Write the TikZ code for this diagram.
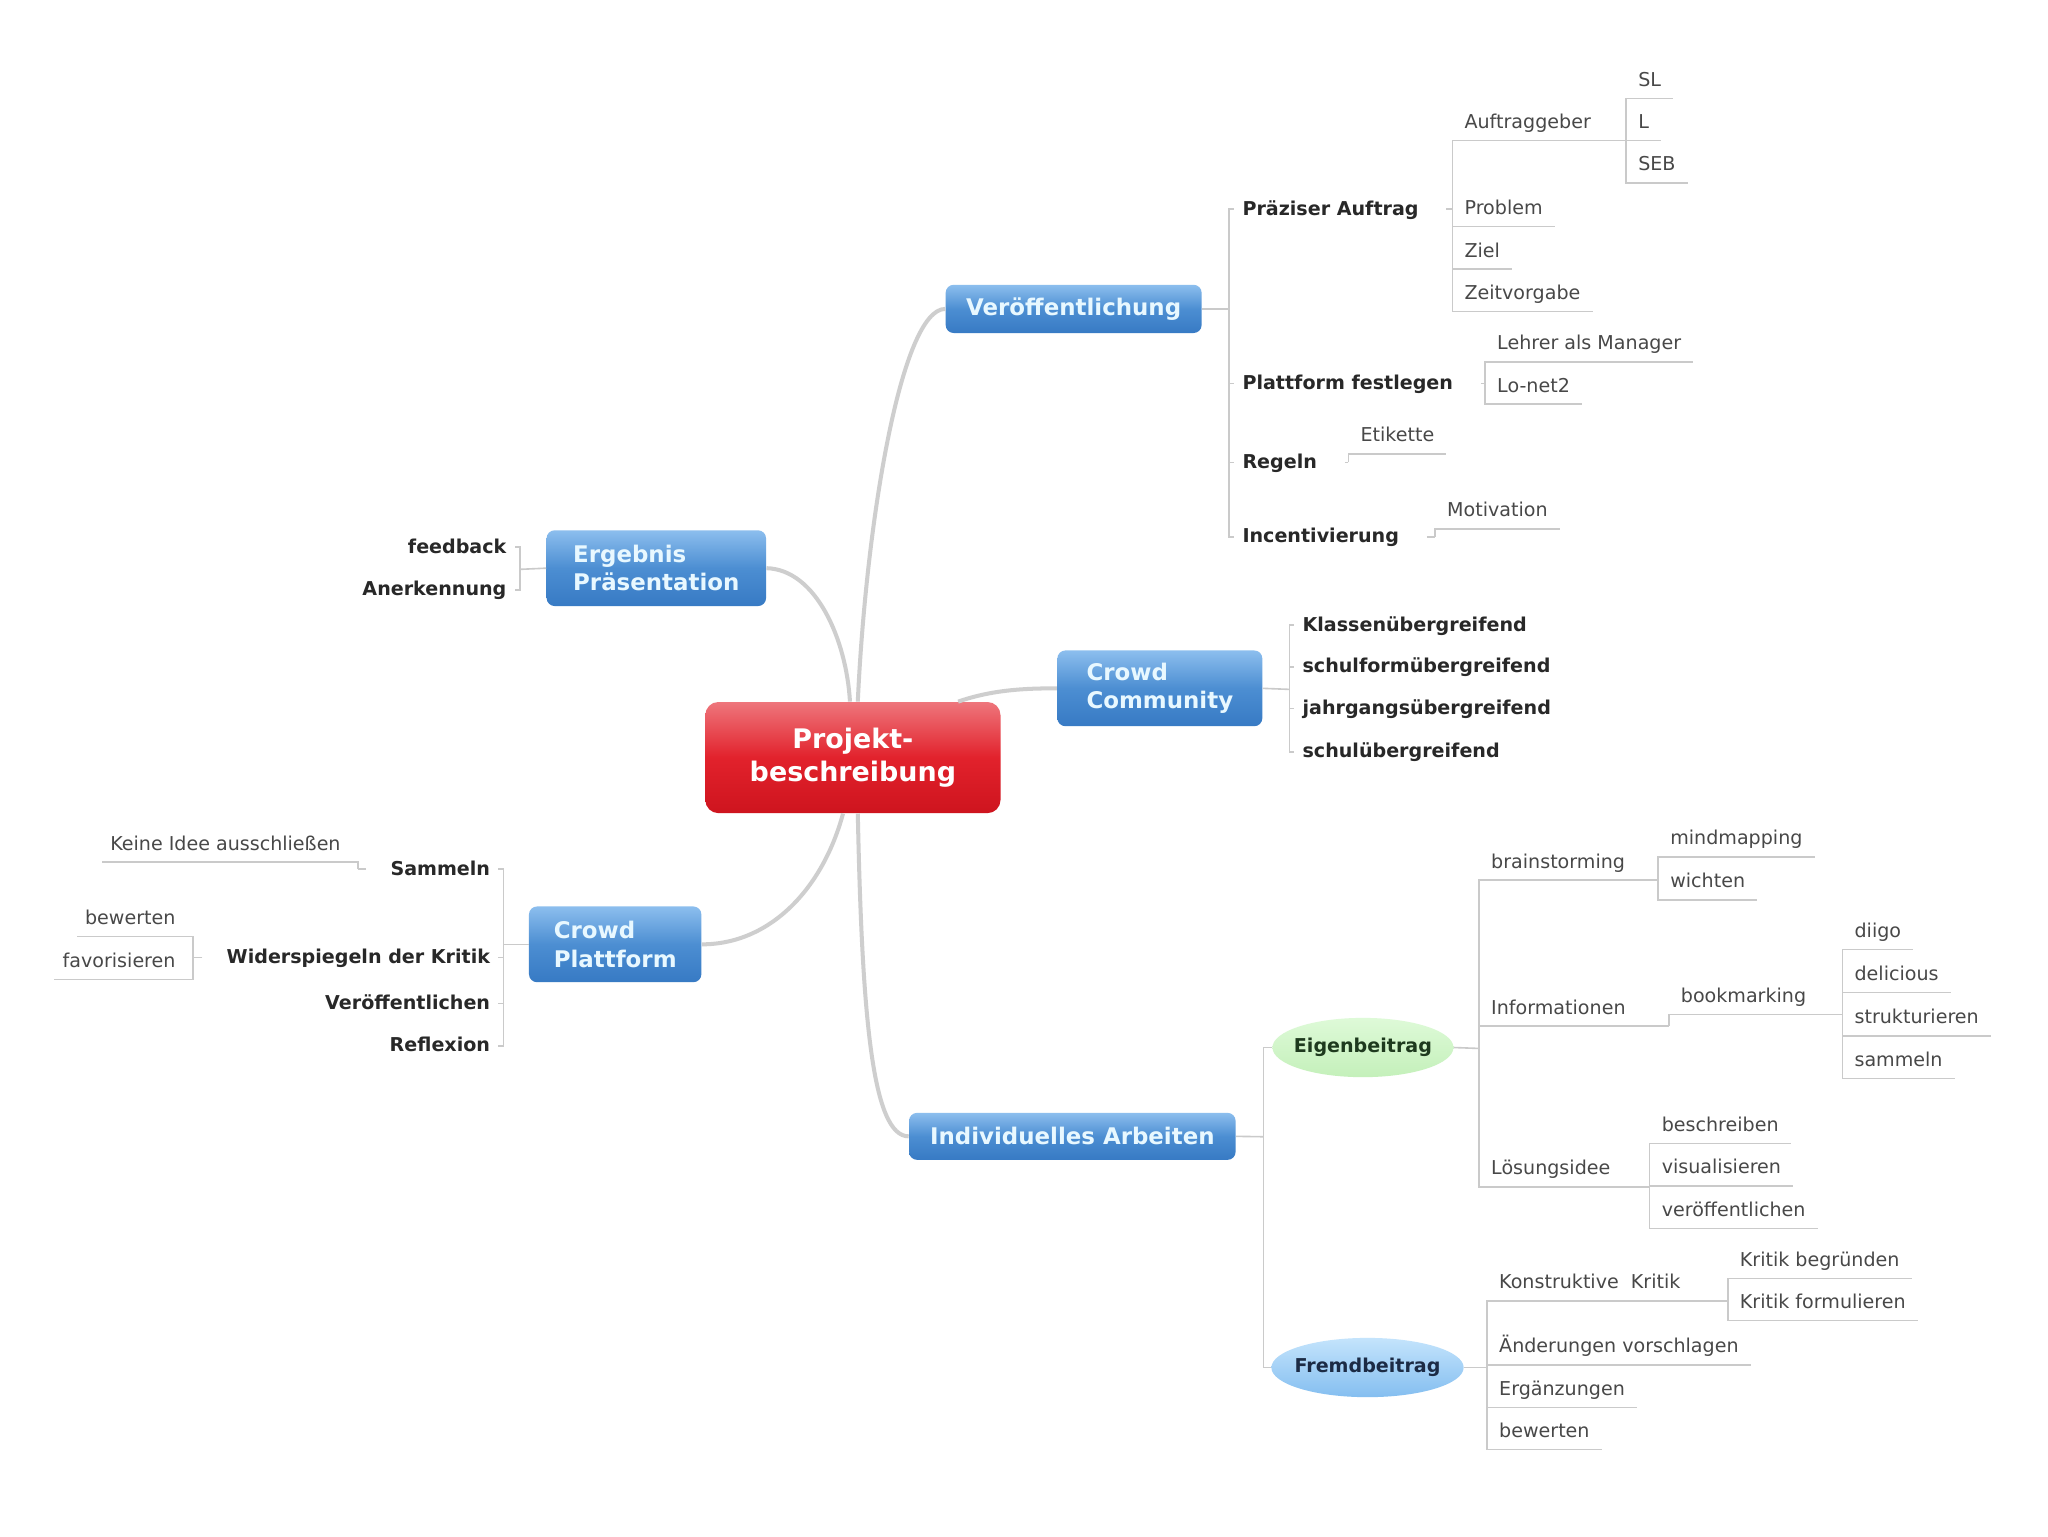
\documentclass[tikz,border=0pt]{standalone}
\usepackage{fontspec}
\setmainfont{DejaVu Sans}
\usetikzlibrary{shapes.geometric}

\definecolor{boxtop}{RGB}{140,190,238}
\definecolor{boxmid}{RGB}{76,142,210}
\definecolor{boxbot}{RGB}{55,122,196}
\definecolor{boxtext}{RGB}{232,248,255}
\definecolor{redtop}{RGB}{238,118,124}
\definecolor{redmid}{RGB}{226,34,44}
\definecolor{redbot}{RGB}{206,20,30}
\definecolor{greentop}{RGB}{222,250,216}
\definecolor{greenbot}{RGB}{196,240,186}
\definecolor{greentext}{RGB}{30,58,30}
\definecolor{skytop}{RGB}{196,228,252}
\definecolor{skybot}{RGB}{132,190,240}
\definecolor{skytext}{RGB}{28,43,69}
\definecolor{curvegray}{RGB}{206,206,206}
\definecolor{twiggray}{RGB}{202,202,202}
\definecolor{subtext}{RGB}{40,40,40}
\definecolor{leaftext}{RGB}{72,72,72}

\tikzset{
  branch/.style={draw=curvegray, line width=2pt},
  twig/.style={draw=twiggray, line width=0.8pt},
  central/.style={rounded corners=6.5pt, top color=redtop, bottom color=redbot, middle color=redmid,
    text=white, font=\fontsize{13.4}{16.3}\selectfont\bfseries, align=center, inner sep=0pt},
  topic/.style={rounded corners=4pt, top color=boxtop, bottom color=boxbot, middle color=boxmid,
    text=boxtext, font=\fontsize{11.4}{14.1}\selectfont\bfseries, align=left, inner sep=0pt},
  eigen/.style={ellipse, top color=greentop, bottom color=greenbot, text=greentext,
    font=\fontsize{9.5}{11}\selectfont\bfseries, inner xsep=-2.5pt, inner ysep=0pt, minimum height=29.5pt},
  fremd/.style={eigen, top color=skytop, bottom color=skybot, text=skytext},
  sub/.style={font=\fontsize{9.5}{11}\selectfont\bfseries, text=subtext, inner xsep=3.9pt, inner ysep=0pt,
    text height=7.5pt, text depth=1.5pt},
  subr/.style={sub, anchor=west},
  subl/.style={sub, anchor=east},
  leaf/.style={font=\fontsize{9.5}{11}\selectfont, text=leaftext, inner xsep=5.85pt, inner ysep=0pt,
    text height=7pt, text depth=5.8pt, anchor=south west},
  leafl/.style={leaf, anchor=south east, inner xsep=3.9pt, execute at end node={\hspace*{4.5pt}}}
}

\begin{document}
\begin{tikzpicture}[x=0.65pt, y=-0.65pt]
        \useasboundingbox (0,0) rectangle (1568,1176);
        \fill[white] (0,0) rectangle (1568,1176);

        % centre and main topics
        \node[central, minimum width=146.9pt, minimum height=55.3pt] (proj) at (653,580) {Projekt-\\beschreibung};
        \node[topic, minimum width=127.4pt, minimum height=24pt] (ver) at (822,236.5) {Veröffentlichung};
        \node[topic, minimum width=109.2pt, minimum height=37.7pt] (erg) at (502.5,435) {Ergebnis\\Präsentation};
        \node[topic, minimum width=102pt, minimum height=37.7pt] (cc) at (888,527) {Crowd\\Community};
        \node[topic, minimum width=85.8pt, minimum height=37.7pt] (cp) at (471,723) {Crowd\\Plattform};
        \node[topic, minimum width=162.5pt, minimum height=23.4pt] (ia) at (821,870) {Individuelles Arbeiten};

        \draw[branch] (proj.85) .. controls (663,400) and (690,236.5) .. (ver.west);
        \draw[branch] (proj.93) .. controls (648,490) and (625,436) .. (erg.east);
        \draw[branch] (proj.28) .. controls (760,528) and (785,527) .. (cc.west);
        \draw[branch] (proj.-100) .. controls (630,680) and (590,723) .. (cp.east);
        \draw[branch] (proj.-85) .. controls (660,780) and (668,870) .. (ia.west);

        % Veroeffentlichung
        \coordinate (ver-j) at (941,236.5);
        \node[subr] (pra) at (945,160) {Präziser Auftrag};
        \node[subr] (pfest) at (945,293.5) {Plattform festlegen};
        \node[subr] (regeln) at (945,354) {Regeln};
        \node[subr] (incent) at (945,410.9) {Incentivierung};
        \draw[twig] (ver.east) -- (ver-j);
        \draw[twig] (ver-j) |- (pra.west);
        \draw[twig] (ver-j) |- (pfest.west);
        \draw[twig] (ver-j) |- (regeln.west);
        \draw[twig] (ver-j) |- (incent.west);

        \coordinate (pa-j) at (1112,160);
        \coordinate (auf-j) at (1245,107.7);
        \node[leaf] (auf) at (1112,107.7) {Auftraggeber};
        \node[leaf] (sl) at (1245,75.3) {SL};
        \node[leaf] (ll) at (1245,107.7) {L};
        \node[leaf] (seb) at (1245,140) {SEB};
        \node[leaf] (prob) at (1112,173.5) {Problem};
        \node[leaf] (ziel) at (1112,206) {Ziel};
        \node[leaf] (zeit) at (1112,238.6) {Zeitvorgabe};
        \draw[twig, shorten <=9.75pt] (pra.east) -- (pa-j);
        \draw[twig] (pa-j) |- (auf.south west) -- (auf-j);
        \draw[twig] (pa-j) |- (prob.south west) -- (prob.south east);
        \draw[twig] (pa-j) |- (ziel.south west) -- (ziel.south east);
        \draw[twig] (pa-j) |- (zeit.south west) -- (zeit.south east);
        \draw[twig] (auf-j) |- (sl.south west) -- (sl.south east);
        \draw[twig] (auf-j) |- (ll.south west) -- (ll.south east);
        \draw[twig] (auf-j) |- (seb.south west) -- (seb.south east);

        \coordinate (pf-j) at (1137,293.5);
        \node[leaf] (lehrer) at (1137,277) {Lehrer als Manager};
        \node[leaf] (lonet) at (1137,309.5) {Lo-net2};
        \draw[twig, shorten <=9.75pt] (pfest.east) -- (pf-j);
        \draw[twig] (pf-j) |- (lehrer.south west) -- (lehrer.south east);
        \draw[twig] (pf-j) |- (lonet.south west) -- (lonet.south east);

        \coordinate (reg-j) at (1032.4,354);
        \node[leaf] (etik) at (1032.4,347.6) {Etikette};
        \draw[twig, shorten <=9.75pt] (regeln.east) -- (reg-j);
        \draw[twig] (reg-j) |- (etik.south west) -- (etik.south east);

        \coordinate (inc-j) at (1098.7,410.9);
        \node[leaf] (moti) at (1098.7,405) {Motivation};
        \draw[twig, shorten <=9.75pt] (incent.east) -- (inc-j);
        \draw[twig] (inc-j) |- (moti.south west) -- (moti.south east);

        % Crowd Community
        \coordinate (cc-j) at (987.2,527.8);
        \node[subr] (klassen) at (991,478.6) {Klassenübergreifend};
        \node[subr] (schulform) at (991,510.5) {schulformübergreifend};
        \node[subr] (jahrgang) at (991,542.4) {jahrgangsübergreifend};
        \node[subr] (schul) at (991,575.6) {schulübergreifend};
        \draw[twig] (cc.east) -- (cc-j);
        \draw[twig] (cc-j) |- (klassen.west);
        \draw[twig] (cc-j) |- (schulform.west);
        \draw[twig] (cc-j) |- (jahrgang.west);
        \draw[twig] (cc-j) |- (schul.west);

        % Ergebnis Praesentation
        \coordinate (erg-j) at (398,435.9);
        \node[subl] (feed) at (394,419) {feedback};
        \node[subl] (anerk) at (394,451.5) {Anerkennung};
        \draw[twig] (erg.west) -- (erg-j);
        \draw[twig] (erg-j) |- (feed.east);
        \draw[twig] (erg-j) |- (anerk.east);

        % Crowd Plattform
        \coordinate (cp-j) at (385.4,723);
        \node[subl] (sam) at (381.5,665.5) {Sammeln};
        \node[subl] (wid) at (381.5,733) {Widerspiegeln der Kritik};
        \node[subl] (veroeff) at (381.5,768.2) {Veröffentlichen};
        \node[subl] (refl) at (381.5,800.6) {Reflexion};
        \draw[twig] (cp.west) -- (cp-j);
        \draw[twig] (cp-j) |- (sam.east);
        \draw[twig] (cp-j) |- (wid.east);
        \draw[twig] (cp-j) |- (veroeff.east);
        \draw[twig] (cp-j) |- (refl.east);

        \coordinate (sam-j) at (274,665.5);
        \node[leafl] (keine) at (274,660) {Keine Idee ausschließen};
        \draw[twig, shorten <=8pt] (sam.west) -- (sam-j);
        \draw[twig] (sam-j) |- (keine.south east) -- (keine.south west);

        \coordinate (wid-j) at (147.6,733);
        \node[leafl] (bew) at (147.6,717) {bewerten};
        \node[leafl] (fav) at (147.6,750) {favorisieren};
        \draw[twig, shorten <=8pt] (wid.west) -- (wid-j);
        \draw[twig] (wid-j) |- (bew.south east) -- (bew.south west);
        \draw[twig] (wid-j) |- (fav.south east) -- (fav.south west);

        % Individuelles Arbeiten
        \coordinate (ia-j) at (967.3,870.3);
        \node[eigen] (eig) at (1043.5,802) {Eigenbeitrag};
        \node[fremd] (frb) at (1047,1047) {Fremdbeitrag};
        \draw[twig] (ia.east) -- (ia-j);
        \draw[twig] (ia-j) |- (eig.west);
        \draw[twig] (ia-j) |- (frb.west);

        % Eigenbeitrag
        \coordinate (eig-j) at (1132.4,802.7);
        \coordinate (bs-j) at (1269.5,673.8);
        \coordinate (inf-j) at (1277.6,785.6);
        \coordinate (los-j) at (1263,908.6);
        \node[leaf] (bs) at (1132.4,673.8) {brainstorming};
        \node[leaf] (inf) at (1132.4,785.6) {Informationen};
        \node[leaf] (los) at (1132.4,908.6) {Lösungsidee};
        \draw[twig] (eig.east) -- (eig-j);
        \draw[twig] (eig-j) |- (bs.south west) -- (bs-j);
        \draw[twig] (eig-j) |- (inf.south west) -- (inf-j);
        \draw[twig] (eig-j) |- (los.south west) -- (los-j);

        \node[leaf] (mind) at (1269.5,656) {mindmapping};
        \node[leaf] (wich) at (1269.5,689) {wichten};
        \draw[twig] (bs-j) |- (mind.south west) -- (mind.south east);
        \draw[twig] (bs-j) |- (wich.south west) -- (wich.south east);

        \coordinate (bm-j) at (1410.6,776.7);
        \node[leaf] (bm) at (1277.6,776.7) {bookmarking};
        \draw[twig] (inf-j) |- (bm.south west) -- (bm-j);
        \node[leaf] (diigo) at (1410.6,727) {diigo};
        \node[leaf] (delic) at (1410.6,760) {delicious};
        \node[leaf] (strukt) at (1410.6,793) {strukturieren};
        \node[leaf] (samm) at (1410.6,825.7) {sammeln};
        \draw[twig] (bm-j) |- (diigo.south west) -- (diigo.south east);
        \draw[twig] (bm-j) |- (delic.south west) -- (delic.south east);
        \draw[twig] (bm-j) |- (strukt.south west) -- (strukt.south east);
        \draw[twig] (bm-j) |- (samm.south west) -- (samm.south east);

        \node[leaf] (besch) at (1263,875.4) {beschreiben};
        \node[leaf] (visu) at (1263,908) {visualisieren};
        \node[leaf] (veroe) at (1263,940.5) {veröffentlichen};
        \draw[twig] (los-j) |- (besch.south west) -- (besch.south east);
        \draw[twig] (los-j) |- (visu.south west) -- (visu.south east);
        \draw[twig] (los-j) |- (veroe.south west) -- (veroe.south east);

        % Fremdbeitrag
        \coordinate (fr-j) at (1138.5,1047);
        \coordinate (kon-j) at (1322.8,995.9);
        \node[leaf] (kon) at (1138.5,995.9) {Konstruktive\ \ Kritik};
        \node[leaf] (aend) at (1138.5,1045) {Änderungen vorschlagen};
        \node[leaf] (ergz) at (1138.5,1077.5) {Ergänzungen};
        \node[leaf] (bewt) at (1138.5,1109.7) {bewerten};
        \draw[twig] (frb.east) -- (fr-j);
        \draw[twig] (fr-j) |- (kon.south west) -- (kon-j);
        \draw[twig] (fr-j) |- (aend.south west) -- (aend.south east);
        \draw[twig] (fr-j) |- (ergz.south west) -- (ergz.south east);
        \draw[twig] (fr-j) |- (bewt.south west) -- (bewt.south east);

        \node[leaf] (kbeg) at (1322.8,978.8) {Kritik begründen};
        \node[leaf] (kform) at (1322.8,1011) {Kritik formulieren};
        \draw[twig] (kon-j) |- (kbeg.south west) -- (kbeg.south east);
        \draw[twig] (kon-j) |- (kform.south west) -- (kform.south east);
    \end{tikzpicture}
\end{document}
